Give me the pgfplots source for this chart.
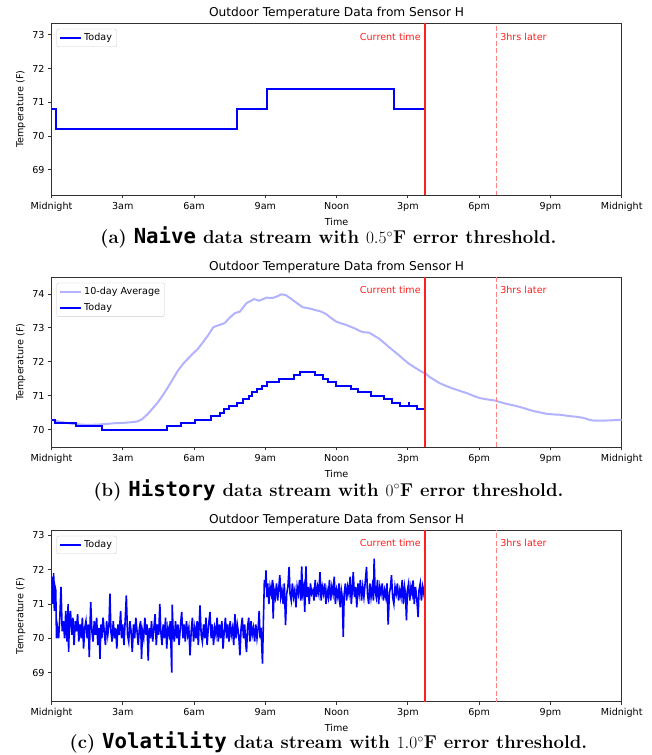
\documentclass[border=0pt]{standalone}
\usepackage{fontspec}
\setmonofont{DejaVu Sans Mono}[Scale=1.12]
\newfontfamily\chartfont{DejaVu Sans}
\usepackage{pgfplots}
\pgfplotsset{compat=1.18}

\definecolor{todayblue}{RGB}{0,0,255}
\definecolor{avgblue}{RGB}{178,178,255}
\definecolor{nowred}{RGB}{255,30,30}
\definecolor{laterred}{RGB}{255,130,130}
\definecolor{spine}{RGB}{50,50,50}

\tikzset{
  redtext/.style={text=nowred, font=\chartfont\fontsize{9.6}{11}\selectfont, inner sep=0pt},
  today/.style={draw=todayblue, line width=2pt},
  noisy/.style={draw=todayblue, line width=1.6pt},
  avg/.style={draw=avgblue, line width=2pt},
  nowline/.style={draw=nowred, line width=1.9pt},
  laterline/.style={draw=laterred, line width=1.2pt, dash pattern=on 5pt off 2.5pt},
}

\pgfplotsset{
  panel/.style={
    scale only axis, width=570.2pt, anchor=south west,
    xmin=0, xmax=24,
    xtick={0,3,...,24},
    xticklabels={Midnight,3am,6am,9am,Noon,3pm,6pm,9pm,Midnight},
    ytick distance=1,
    tick align=outside, xtick pos=bottom, ytick pos=left,
    major tick length=3.5pt,
    axis line style={spine, line width=0.8pt},
    tick style={spine, line width=0.8pt},
    font=\chartfont\fontsize{9.6}{11}\selectfont,
    /pgf/number format/assume math mode=true,
    title={Outdoor Temperature Data from Sensor H},
    title style={font=\chartfont\fontsize{12.2}{14}\selectfont, yshift=-5pt},
    xlabel={Time}, ylabel={Temperature (F)},
    legend style={at={(0,1)}, anchor=north west, xshift=5pt, yshift=-5.5pt,
      draw=black!20, rounded corners=2pt, fill=white,
      font=\chartfont\fontsize{9.6}{11}\selectfont,
      row sep=3pt, inner sep=2.5pt, cells={anchor=west}},
    legend image code/.code={\draw[#1] (0pt,0pt) -- (21pt,0pt);},
  },
}

\begin{document}
\begin{tikzpicture}
\useasboundingbox (0,0) rectangle (652pt,755pt);

% (a) Naive
\begin{axis}[panel, at={(51.5pt,560pt)}, height=171.7pt, ymin=68.25, ymax=73.34]
\addlegendimage{today}
\addlegendentry{Today}
\addplot[today, const plot, forget plot] coordinates {
  (0,70.8) (0.21,70.2) (7.8,70.8) (9.08,71.4) (14.4,70.8) (15.72,70.8)};
\addplot[nowline, forget plot] coordinates {(15.72,60) (15.72,80)};
\addplot[laterline, forget plot] coordinates {(18.72,60) (18.72,80)};
\node[redtext, anchor=east] at (axis cs:15.55,72.94) {Current time};
\node[redtext, anchor=west] at (axis cs:18.88,72.94) {3hrs later};
\end{axis}

% (b) History
\begin{axis}[panel, at={(51.5pt,308pt)}, height=169.7pt, ymin=69.49, ymax=74.49]
\addlegendimage{avg}
\addlegendentry{10-day Average}
\addlegendimage{today}
\addlegendentry{Today}
\addplot[avg, forget plot] coordinates {
  (0,70.29)(0.3,70.24)(0.55,70.21)(0.9,70.17)(1.25,70.15)(1.6,70.14)(1.96,70.15)
  (2.3,70.17)(2.66,70.19)(3.0,70.2)(3.36,70.22)(3.6,70.24)(3.8,70.3)(4.06,70.47)
  (4.25,70.62)(4.48,70.81)(4.7,71.03)(4.90,71.25)(5.1,71.48)(5.32,71.74)(5.55,71.95)
  (5.74,72.09)(5.95,72.24)(6.16,72.38)(6.4,72.6)(6.58,72.77)(6.81,73.02)(7.0,73.07)
  (7.29,73.14)(7.5,73.3)(7.71,73.43)(7.93,73.48)(8.21,73.73)(8.53,73.85)(8.74,73.80)
  (9.05,73.89)(9.3,73.88)(9.47,73.92)(9.68,73.99)(9.87,73.96)(10.1,73.85)(10.29,73.75)
  (10.57,73.61)(10.92,73.56)(11.13,73.52)(11.35,73.48)(11.55,73.41)(11.75,73.3)
  (11.97,73.19)(12.2,73.13)(12.39,73.09)(12.6,73.03)(12.81,72.97)(13.0,72.9)
  (13.16,72.87)(13.37,72.86)(13.58,72.77)(13.79,72.68)(14.0,72.56)(14.21,72.43)
  (14.42,72.31)(14.63,72.19)(14.84,72.06)(15.05,71.94)(15.23,71.86)(15.41,71.78)
  (15.6,71.7)(15.76,71.65)(15.92,71.55)(16.13,71.46)(16.34,71.37)(16.6,71.29)
  (16.90,71.21)(17.2,71.14)(17.47,71.08)(17.75,71.0)(18.03,70.93)(18.35,70.89)
  (18.66,70.86)(18.9,70.81)(19.15,70.76)(19.43,70.72)(19.71,70.67)(20.0,70.61)
  (20.27,70.55)(20.55,70.51)(20.83,70.47)(21.1,70.45)(21.39,70.44)(21.6,70.42)
  (21.81,70.4)(22.1,70.38)(22.37,70.35)(22.6,70.3)(22.79,70.27)(23.1,70.27)
  (23.36,70.27)(23.7,70.28)(24,70.29)};
\addplot[today, const plot, forget plot] coordinates {
  (0,70.3)(0.14,70.2)(1.03,70.1)(2.12,70.0)(4.87,70.1)(5.44,70.2)(6.03,70.3)
  (6.70,70.4)(7.10,70.5)(7.26,70.6)(7.45,70.7)(7.79,70.8)(8.07,70.9)(8.30,71.0)
  (8.46,71.1)(8.67,71.2)(8.88,71.3)(9.09,71.4)(9.56,71.5)(10.22,71.6)(10.45,71.7)
  (11.09,71.6)(11.41,71.5)(11.62,71.4)(11.97,71.3)(12.60,71.2)(12.92,71.1)
  (13.44,71.0)(14.00,70.9)(14.35,70.8)(14.66,70.7)(15.03,70.8)(15.06,70.7)
  (15.40,70.6)(15.72,70.6)};
\addplot[nowline, forget plot] coordinates {(15.72,60) (15.72,80)};
\addplot[laterline, forget plot] coordinates {(18.72,60) (18.72,80)};
\node[redtext, anchor=east] at (axis cs:15.55,74.12) {Current time};
\node[redtext, anchor=west] at (axis cs:18.88,74.12) {3hrs later};
\end{axis}

% (c) Volatility
\begin{axis}[panel, at={(51.5pt,53.7pt)}, height=171pt, ymin=68.16, ymax=73.15]
\addlegendimage{today}
\addlegendentry{Today}
\addplot[noisy, forget plot] coordinates {
  (0.00,71.2)(0.03,71.8)(0.06,71.0)(0.09,71.9)(0.12,70.8)(0.15,71.5)(0.18,71.4)
  (0.21,70.0)(0.25,70.3)(0.30,70.0)(0.35,70.6)(0.40,71.5)(0.45,70.2)(0.50,70.5)
  (0.55,70.0)(0.60,70.8)(0.65,69.9)(0.70,71.0)(0.72,69.6)(0.75,70.4)(0.80,70.8)
  (0.85,70.1)(0.90,70.6)(0.95,69.8)(1.00,70.5)(1.05,70.2)(1.10,70.7)(1.15,69.9)
  (1.20,70.4)(1.25,70.0)(1.30,70.6)(1.35,69.7)(1.40,70.3)(1.45,70.5)(1.50,70.0)
  (1.55,70.4)(1.59,69.45)(1.62,70.3)(1.65,71.05)(1.70,70.2)(1.75,69.9)(1.80,70.5)
  (1.85,70.1)(1.90,70.6)(1.95,69.8)(2.00,70.3)(2.04,69.4)(2.08,70.4)(2.12,70.0)
  (2.17,70.6)(2.22,70.2)(2.27,69.8)(2.32,70.5)(2.37,70.1)(2.42,70.4)(2.46,71.3)
  (2.50,70.2)(2.55,69.9)(2.60,70.5)(2.65,70.0)(2.70,70.3)(2.75,69.7)(2.80,70.4)
  (2.85,70.1)(2.91,70.8)(2.95,70.0)(3.00,70.4)(3.05,69.8)(3.10,70.5)(3.15,71.25)
  (3.20,70.1)(3.25,69.9)(3.30,70.5)(3.35,70.2)(3.40,69.6)(3.45,70.4)(3.50,70.0)
  (3.55,70.6)(3.60,70.2)(3.65,69.8)(3.70,70.3)(3.75,70.5)(3.79,69.4)(3.83,70.2)
  (3.88,70.0)(3.93,70.6)(3.98,70.1)(4.02,70.4)(4.07,69.35)(4.11,70.3)(4.16,70.0)
  (4.21,70.5)(4.26,69.9)(4.31,70.3)(4.36,70.7)(4.41,69.8)(4.46,70.4)(4.51,70.1)
  (4.56,71.0)(4.60,70.2)(4.65,69.8)(4.70,70.4)(4.75,70.0)(4.80,70.6)(4.85,69.7)
  (4.90,70.3)(4.95,70.1)(5.00,70.5)(5.06,69.0)(5.08,70.98)(5.12,70.2)(5.17,69.9)
  (5.22,70.5)(5.27,70.0)(5.32,70.4)(5.37,69.8)(5.42,70.3)(5.48,70.77)(5.53,70.0)
  (5.58,70.4)(5.63,69.9)(5.68,70.5)(5.73,70.1)(5.78,70.3)(5.83,69.5)(5.88,70.2)
  (5.93,70.6)(5.98,69.9)(6.03,70.3)(6.08,70.0)(6.13,70.5)(6.18,69.8)(6.25,70.96)
  (6.30,70.1)(6.35,69.9)(6.40,70.4)(6.45,70.0)(6.50,70.6)(6.55,69.8)(6.60,70.3)
  (6.67,70.77)(6.72,70.0)(6.77,70.4)(6.82,69.8)(6.87,70.3)(6.92,70.1)(6.97,70.6)
  (7.02,69.9)(7.07,70.4)(7.12,70.0)(7.17,70.5)(7.22,69.7)(7.27,70.2)(7.32,70.6)
  (7.37,70.0)(7.42,70.4)(7.47,69.9)(7.52,70.5)(7.57,70.1)(7.62,70.3)(7.67,69.8)
  (7.72,70.7)(7.77,70.0)(7.82,70.4)(7.88,70.1)(7.93,69.5)(7.98,70.3)(8.03,70.6)
  (8.08,70.0)(8.13,70.4)(8.18,69.8)(8.21,69.6)(8.25,70.3)(8.30,70.6)(8.35,69.9)
  (8.40,70.5)(8.45,70.1)(8.50,70.3)(8.55,69.9)(8.60,70.4)(8.65,70.0)(8.70,70.3)
  (8.74,70.8)(8.78,70.0)(8.82,70.3)(8.88,69.26)(8.92,70.5)(8.96,71.7)(9.00,71.5)
  (9.03,71.98)(9.06,71.2)(9.10,71.6)(9.15,71.0)(9.20,71.5)(9.25,71.3)(9.30,71.7)
  (9.33,70.57)(9.37,71.4)(9.42,71.2)(9.47,71.6)(9.52,71.1)(9.57,71.5)(9.61,71.84)
  (9.65,71.2)(9.70,71.4)(9.75,71.0)(9.80,71.6)(9.85,70.38)(9.90,71.3)(9.95,71.5)
  (10.00,72.08)(10.04,71.3)(10.09,71.1)(10.14,71.6)(10.19,71.2)(10.24,71.4)
  (10.29,70.9)(10.34,71.5)(10.39,71.3)(10.44,71.7)(10.49,71.1)(10.53,72.1)
  (10.57,71.3)(10.62,71.5)(10.66,70.77)(10.71,72.1)(10.75,71.2)(10.80,71.5)
  (10.85,71.0)(10.90,71.6)(10.95,71.3)(11.00,71.4)(11.05,71.1)(11.10,71.7)
  (11.15,71.2)(11.20,71.5)(11.25,71.3)(11.30,71.93)(11.35,71.1)(11.40,71.5)
  (11.45,71.3)(11.50,71.6)(11.55,71.0)(11.60,71.4)(11.65,71.2)(11.70,71.7)
  (11.75,71.1)(11.80,71.5)(11.85,71.3)(11.90,71.8)(11.95,71.0)(12.00,71.4)
  (12.05,71.2)(12.10,71.6)(12.15,70.9)(12.20,71.4)(12.24,71.2)(12.28,70.04)
  (12.32,71.3)(12.37,71.6)(12.42,71.1)(12.47,71.5)(12.52,71.3)(12.57,71.8)
  (12.62,71.0)(12.66,71.4)(12.70,71.93)(12.75,71.2)(12.80,71.5)(12.85,70.9)
  (12.90,71.6)(12.95,71.3)(13.00,71.7)(13.05,71.1)(13.10,71.5)(13.15,71.2)
  (13.20,71.6)(13.26,72.08)(13.30,71.3)(13.35,71.0)(13.40,71.6)(13.45,71.2)
  (13.50,71.5)(13.55,71.1)(13.58,72.32)(13.62,71.4)(13.67,71.2)(13.72,71.7)
  (13.77,71.0)(13.82,71.5)(13.87,71.3)(13.92,71.6)(13.97,71.1)(14.02,71.4)
  (14.07,71.2)(14.12,71.6)(14.17,70.4)(14.22,71.3)(14.27,71.5)(14.31,71.84)
  (14.36,71.2)(14.41,71.0)(14.46,71.5)(14.51,71.3)(14.56,71.6)(14.61,71.1)
  (14.66,71.4)(14.71,71.2)(14.76,71.7)(14.81,71.0)(14.86,71.5)(14.90,71.3)
  (14.94,70.52)(14.98,71.4)(15.03,71.6)(15.08,71.1)(15.13,71.5)(15.18,71.3)
  (15.22,71.69)(15.27,71.0)(15.32,71.5)(15.37,71.2)(15.43,70.62)(15.47,71.4)
  (15.52,71.6)(15.57,71.1)(15.62,71.5)(15.67,71.3)(15.72,71.6)};
\addplot[nowline, forget plot] coordinates {(15.72,60) (15.72,80)};
\addplot[laterline, forget plot] coordinates {(18.72,60) (18.72,80)};
\node[redtext, anchor=east] at (axis cs:15.55,72.78) {Current time};
\node[redtext, anchor=west] at (axis cs:18.88,72.78) {3hrs later};
\end{axis}

\begin{scope}[font=\bfseries\fontsize{18.5}{21}\selectfont]
\node at (328.5pt,517.7pt) {(a) \texttt{Naive} data stream with $0.5^\circ$F error threshold.};
\node at (328.5pt,265pt) {(b) \texttt{History} data stream with $0^\circ$F error threshold.};
\node at (328.5pt,12.7pt) {(c) \texttt{Volatility} data stream with $1.0^\circ$F error threshold.};
\end{scope}
\end{tikzpicture}
\end{document}
